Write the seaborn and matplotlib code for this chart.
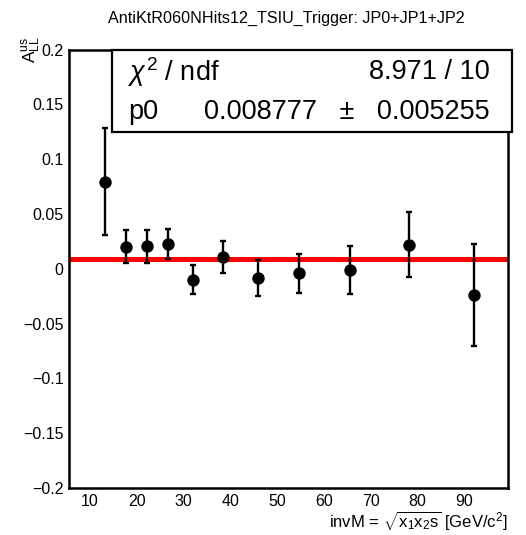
import matplotlib
matplotlib.use("Agg")
import matplotlib.pyplot as plt
from matplotlib.ticker import MultipleLocator
from matplotlib.patches import Rectangle
import seaborn as sns
import pandas as pd

# Asymmetry per invariant-mass bin
inv_mass = [13.2, 17.7, 22.1, 26.6, 31.9, 38.35, 45.8, 54.7, 65.5, 78.2, 92.1]
asym = [0.0794, 0.0201, 0.0205, 0.0226, -0.0100, 0.0110, -0.0083, -0.0042, -0.0012, 0.0221, -0.0242]
asym_err = [0.0490, 0.0152, 0.0149, 0.0140, 0.0134, 0.0146, 0.0163, 0.0177, 0.0220, 0.0299, 0.0465]

# Constant fit result
chi2 = 8.971
ndf = 10
p0 = 0.008777
p0_err = 0.005255

title = "AntiKtR060NHits12_TSIU_Trigger: JP0+JP1+JP2"

df = pd.DataFrame({"invM": inv_mass, "A": asym, "err": asym_err})

sns.set_theme(style="white")
plt.rcParams["font.family"] = ["Liberation Sans", "DejaVu Sans"]
plt.rcParams["mathtext.fontset"] = "custom"
plt.rcParams["mathtext.rm"] = "Liberation Sans"
plt.rcParams["mathtext.it"] = "Liberation Sans:italic"
plt.rcParams["mathtext.bf"] = "Liberation Sans:bold"
plt.rcParams["axes.unicode_minus"] = True

W, H = 526, 535
fig = plt.figure(figsize=(W / 100, H / 100), dpi=100)
fig.patch.set_facecolor("white")
ax = fig.add_axes([69 / W, 1 - 488 / H, (508 - 69) / W, (488 - 49.5) / H])
ax.set_facecolor("white")

# fitted constant
ax.axhline(p0, color="#ff0000", lw=3.6, zorder=2)

# error bars and points
ax.errorbar(df["invM"], df["A"], yerr=df["err"], fmt="none", ecolor="black",
            elinewidth=1.7, capsize=2.0, capthick=1.7, zorder=3)
sns.scatterplot(data=df, x="invM", y="A", ax=ax, color="black", s=80,
                edgecolor="black", linewidth=0, zorder=4, legend=False)

ax.set_xlim(5.5, 99.3)
ax.set_ylim(-0.2, 0.2)

ax.xaxis.set_major_locator(MultipleLocator(10))
ax.xaxis.set_minor_locator(MultipleLocator(2))
ax.yaxis.set_major_locator(MultipleLocator(0.05))
ax.yaxis.set_minor_locator(MultipleLocator(0.01))

def yfmt(v, _):
    if abs(v) < 1e-9:
        return "0"
    s = f"{v:.2f}".rstrip("0")
    return s.replace("-", "\u2212")

ax.yaxis.set_major_formatter(plt.FuncFormatter(yfmt))
ax.xaxis.set_major_formatter(plt.FuncFormatter(lambda v, _: f"{v:.0f}" if 10 <= v <= 90 else ""))

ax.tick_params(axis="both", which="both", direction="in", color="black",
               top=False, right=False, labelsize=11.5, labelcolor="black")
ax.tick_params(axis="both", which="major", length=9, width=1.5)
ax.tick_params(axis="both", which="minor", length=4.5, width=1.5)
ax.tick_params(axis="y", which="major", pad=4)
ax.tick_params(axis="x", which="major", pad=4)

for sp in ax.spines.values():
    sp.set_visible(True)
    sp.set_color("black")
    sp.set_linewidth(1.8)

ax.set_xlabel(r"invM = $\sqrt{\mathrm{x_1x_2s}}$ [GeV/c$^2$]", fontsize=12,
              color="black", ha="right")
ax.xaxis.set_label_coords(1.0, -0.05)
ax.set_ylabel(r"A$_{\mathrm{LL}}^{\mathrm{us}}$", fontsize=12.5, color="black", ha="right")
ax.yaxis.set_label_coords(-0.06, 1.03)

fig.text(286 / W, 1 - 18 / H, title, ha="center", va="center",
         fontsize=11.6, color="black")

# fit statistics box
bx0, bx1, by0, by1 = 112, 512, 49.5, 131.5
fig.patches.append(Rectangle((bx0 / W, 1 - by1 / H), (bx1 - bx0) / W, (by1 - by0) / H,
                             transform=fig.transFigure, facecolor="white",
                             edgecolor="black", linewidth=1.6, zorder=10))
row1_y, row2_y = 72, 112
fig.text(128 / W, 1 - row1_y / H, r"$\chi^{2}$ / ndf", ha="left", va="center",
         fontsize=19.5, color="black", zorder=11)
fig.text(490 / W, 1 - row1_y / H, f"{chi2:.3f} / {ndf}", ha="right", va="center",
         fontsize=19.5, color="black", zorder=11)
fig.text(128 / W, 1 - row2_y / H, "p0", ha="left", va="center",
         fontsize=19.5, color="black", zorder=11)
fig.text(490 / W, 1 - row2_y / H, f"{p0:.6f}   \u00b1   {p0_err:.6f}", ha="right",
         va="center", fontsize=19.5, color="black", zorder=11)

fig.savefig("out.png", dpi=100, facecolor="white")
